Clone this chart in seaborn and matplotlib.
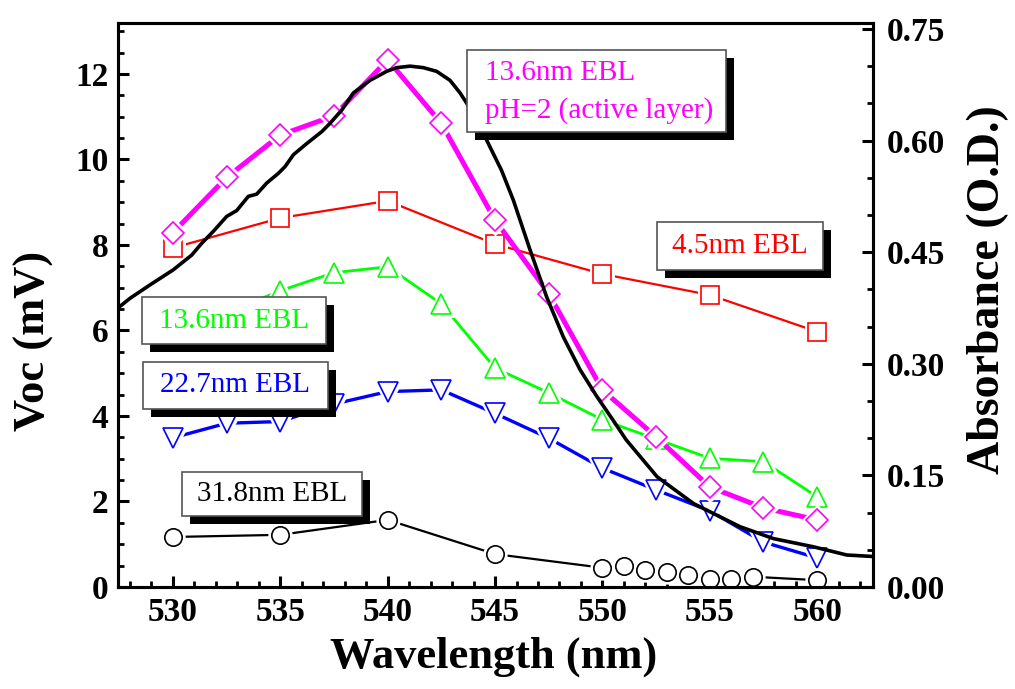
import numpy as np
import pandas as pd
import matplotlib
matplotlib.use("Agg")
import matplotlib.pyplot as plt
import seaborn as sns
from matplotlib.patches import Rectangle
from matplotlib.ticker import MultipleLocator

# ---------------- data ----------------
wl_mag = [530, 532.5, 535, 537.5, 540, 542.5, 545, 547.5, 550, 552.5, 555, 557.5, 560]
voc_mag = [8.29, 9.58, 10.57, 11.02, 12.33, 10.84, 8.58, 6.86, 4.61, 3.51, 2.34, 1.85, 1.57]

wl_red = [530, 535, 540, 545, 550, 555, 560]
voc_red = [7.93, 8.63, 9.03, 8.02, 7.32, 6.83, 5.97]

wl_green = [530, 535, 537.5, 540, 542.5, 545, 547.5, 550, 552.5, 555, 557.5, 560]
voc_green = [5.9, 6.93, 7.35, 7.49, 6.62, 5.12, 4.54, 3.91, 3.46, 3.01, 2.93, 2.11]

wl_blue = [530, 532.5, 535, 537.5, 540, 542.5, 545, 547.5, 550, 552.5, 555, 557.5, 560]
voc_blue = [3.49, 3.83, 3.87, 4.28, 4.57, 4.61, 4.06, 3.48, 2.78, 2.27, 1.78, 1.05, 0.68]

wl_black = [530, 535, 540, 545, 550, 551, 552, 553, 554, 555, 556, 557, 560]
voc_black = [1.17, 1.22, 1.57, 0.77, 0.45, 0.48, 0.40, 0.34, 0.28, 0.19, 0.19, 0.24, 0.16]

wl_abs = [527.44, 528.0, 528.93, 530.0, 530.87, 531.34, 531.88, 532.5, 532.97, 533.51,
          533.9, 534.37, 534.91, 535.22, 535.61, 536.23, 536.93, 537.31, 537.86, 538.4,
          539.18, 539.95, 540.42, 541.04, 541.66, 542.28, 542.9, 543.37, 543.84, 544.6,
          545.3, 545.85, 546.63, 547.4, 548.18, 548.96, 549.74, 550.5, 551.1, 552.55,
          554.25, 556.41, 557.97, 559.83, 561.38, 562.6]
abs_val = [0.375, 0.388, 0.406, 0.426, 0.446, 0.462, 0.478, 0.498, 0.506, 0.525,
           0.528, 0.543, 0.556, 0.565, 0.581, 0.596, 0.612, 0.623, 0.641, 0.664,
           0.681, 0.693, 0.698, 0.700, 0.698, 0.693, 0.681, 0.664, 0.643, 0.601,
           0.560, 0.520, 0.453, 0.390, 0.336, 0.292, 0.256, 0.224, 0.198, 0.148,
           0.112, 0.081, 0.065, 0.054, 0.043, 0.041]

x_ticks = [530, 535, 540, 545, 550, 555, 560]
y_ticks = [0, 2, 4, 6, 8, 10, 12]
y2_ticks = [0.00, 0.15, 0.30, 0.45, 0.60, 0.75]

labels = [
    # text, color, box (left, top, right, bottom) in pixels
    ("13.6nm EBL\npH=2 (active layer)", "#FF00FF", (467, 50, 726, 132)),
    ("4.5nm EBL", "#FF0000", (657, 222, 823, 270)),
    ("13.6nm EBL", "#00FF00", (142, 297, 326, 344)),
    ("22.7nm EBL", "#0000FF", (143, 362, 328, 409)),
    ("31.8nm EBL", "#000000", (182, 472, 362, 516)),
]

# ---------------- style ----------------
sns.set_theme(style="ticks")
plt.rcParams["font.family"] = ["Liberation Serif", "DejaVu Serif"]
for k in ("text.color", "axes.labelcolor", "xtick.color", "ytick.color", "axes.edgecolor"):
    plt.rcParams[k] = "black"

W, H = 1015, 689
fig = plt.figure(figsize=(W / 100, H / 100), dpi=100)
ax = fig.add_axes([118 / W, 1 - 587 / H, (873 - 118) / W, (587 - 23) / H])
ax2 = ax.twinx()

series = [
    (wl_red, voc_red, "#FF0000", "s", 13, 1.6, 1.2),
    (wl_green, voc_green, "#00FF00", "^", 14, 2.0, 1.2),
    (wl_blue, voc_blue, "#0000FF", "v", 14, 2.4, 1.2),
    (wl_black, voc_black, "#000000", "o", 12.5, 1.6, 1.2),
    (wl_mag, voc_mag, "#FF00FF", "D", 11.5, 3.6, 1.2),
]

for i, (xs, ys, col, mk, ms, lw, mew) in enumerate(series):
    df = pd.DataFrame({"x": xs, "y": ys})
    z = 2 + i
    sns.lineplot(data=df, x="x", y="y", ax=ax, color=col, lw=lw, zorder=z,
                 sort=False, estimator=None)
    sns.lineplot(data=df, x="x", y="y", ax=ax, color=col, linestyle="none",
                 marker=mk, ms=ms, mfc="white", mec="white", mew=5,
                 zorder=z + 0.1, sort=False, estimator=None)
    sns.lineplot(data=df, x="x", y="y", ax=ax, color=col, linestyle="none",
                 marker=mk, ms=ms, mfc="none", mec=col, mew=mew,
                 zorder=z + 0.2, sort=False, estimator=None)

dfa = pd.DataFrame({"x": wl_abs, "y": abs_val})
sns.lineplot(data=dfa, x="x", y="y", ax=ax2, color="black", lw=2.6,
             sort=False, estimator=None)

# ---------------- axes ----------------
ax.set_xlim(527.44, 562.6)
ax.set_ylim(0, 13.19)
ax2.set_ylim(0, 0.758)

ax.set_xticks(x_ticks)
ax.set_yticks(y_ticks)
ax2.set_yticks(y2_ticks)
ax.set_xticklabels([str(v) for v in x_ticks])
ax.set_yticklabels([str(v) for v in y_ticks])
ax2.set_yticklabels([f"{v:.2f}" for v in y2_ticks])
ax.xaxis.set_minor_locator(MultipleLocator(1))
ax.yaxis.set_minor_locator(MultipleLocator(0.5))
ax2.yaxis.set_minor_locator(MultipleLocator(0.05))

for a in (ax, ax2):
    for s in a.spines.values():
        s.set_linewidth(2.2)
        s.set_color("black")
    a.tick_params(which="major", direction="in", length=8, width=2.2,
                  labelsize=24, pad=7, colors="black")
    a.tick_params(which="minor", direction="in", length=4, width=2.0, colors="black")

ax.tick_params(axis="x", which="both", top=False)
ax2.tick_params(axis="y", which="both", left=False, right=True, pad=10)
ax.tick_params(axis="y", which="both", right=False)
for lab in ax.get_xticklabels() + ax.get_yticklabels() + ax2.get_yticklabels():
    lab.set_fontweight("bold")

ax.set_xlabel("Wavelength (nm)", fontsize=32, fontweight="bold")
ax.set_ylabel("Voc (mV)", fontsize=32, fontweight="bold")
ax2.set_ylabel("Absorbance (O.D.)", fontsize=33, fontweight="bold", rotation=90)
ax.xaxis.set_label_coords(0.497, -0.088)
ax.yaxis.set_label_coords(-0.111, 0.436)
ax2.yaxis.set_label_coords(1.152, 0.527)
ax.yaxis.label.set_va("center")
ax2.yaxis.label.set_va("center")

# ---------------- labels with shadow boxes ----------------
off = 8
for text, col, (l, t, r, b) in labels:
    fx, fy = l / W, 1 - b / H
    fw, fh = (r - l) / W, (b - t) / H
    fig.add_artist(Rectangle((fx + off / W, fy - off / H), fw, fh,
                             transform=fig.transFigure, facecolor="black",
                             edgecolor="none", zorder=10))
    fig.add_artist(Rectangle((fx, fy), fw, fh, transform=fig.transFigure,
                             facecolor="white", edgecolor="#555555", lw=1.2,
                             zorder=11))
    if "\n" in text:
        fig.text(fx + 18 / W, fy + fh / 2 - 1 / H, text, color=col, fontsize=21,
                 ha="left", va="center", linespacing=1.5, zorder=12)
    else:
        fig.text(fx + fw / 2, fy + fh / 2, text, color=col, fontsize=21,
                 ha="center", va="center", zorder=12)

fig.savefig("out.png", dpi=100)
